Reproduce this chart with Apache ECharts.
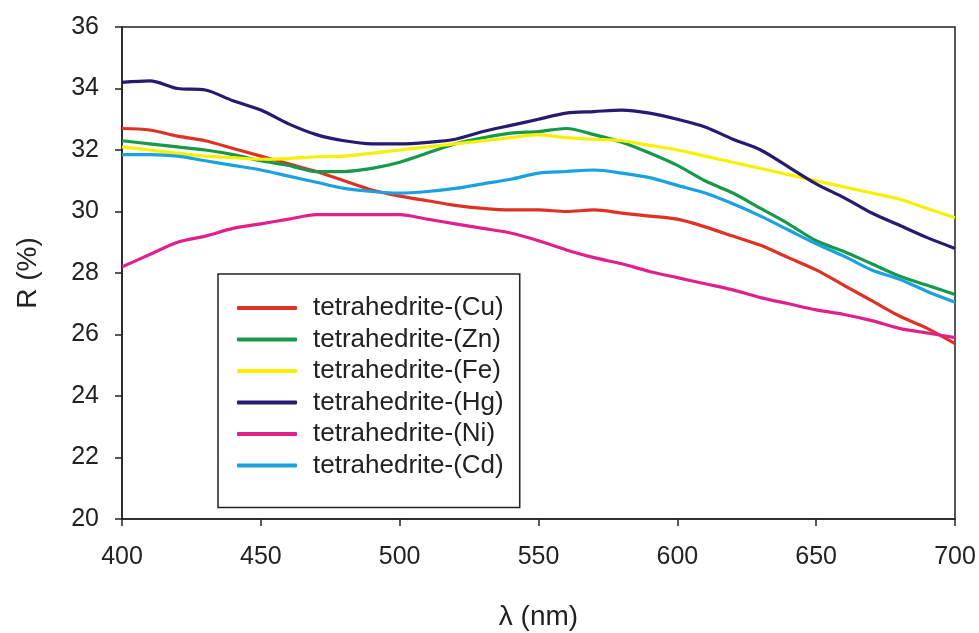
<!DOCTYPE html>
<html>
<head>
<meta charset="utf-8">
<script src="https://cdn.jsdelivr.net/npm/echarts@6/dist/echarts.min.js"></script>
<style>
  html, body { margin: 0; padding: 0; background: #fff; }
  #chart { width: 979px; height: 633px; }
</style>
</head>
<body>
<div id="chart"></div>
<script>
// wavelengths, nm
const lambda = [400, 410, 420, 430, 440, 450, 460, 470, 480, 490, 500, 510, 520, 530, 540, 550,
  560, 570, 580, 590, 600, 610, 620, 630, 640, 650, 660, 670, 680, 690, 700]

const cu = [32.7, 32.65, 32.45, 32.3, 32.05, 31.8, 31.55, 31.3, 31.0, 30.7, 30.5, 30.35, 30.2, 30.1, 30.05, 30.05,
  30.0, 30.05, 29.95, 29.85, 29.75, 29.5, 29.2, 28.9, 28.5, 28.1, 27.6, 27.1, 26.6, 26.2, 25.7]
const zn = [32.3, 32.2, 32.1, 32.0, 31.85, 31.65, 31.5, 31.3, 31.3, 31.4, 31.6, 31.9, 32.2, 32.4, 32.55, 32.6,
  32.7, 32.5, 32.25, 31.9, 31.5, 31.0, 30.6, 30.1, 29.6, 29.05, 28.7, 28.3, 27.9, 27.6, 27.3]
const fe = [32.1, 32.0, 31.9, 31.8, 31.75, 31.7, 31.72, 31.78, 31.8, 31.9, 32.0, 32.1, 32.2, 32.3, 32.4, 32.5,
  32.4, 32.35, 32.3, 32.15, 32.0, 31.8, 31.6, 31.4, 31.2, 31.0, 30.8, 30.6, 30.4, 30.1, 29.8]
const hg = [34.2, 34.25, 34.0, 33.95, 33.6, 33.3, 32.85, 32.5, 32.3, 32.2, 32.2, 32.25, 32.35, 32.6, 32.8, 33.0,
  33.2, 33.25, 33.3, 33.2, 33.0, 32.75, 32.35, 32.0, 31.45, 30.9, 30.45, 29.95, 29.55, 29.15, 28.8]
const ni = [28.2, 28.6, 29.0, 29.2, 29.45, 29.6, 29.75, 29.9, 29.9, 29.9, 29.9, 29.75, 29.6, 29.45, 29.3, 29.05,
  28.75, 28.5, 28.3, 28.05, 27.85, 27.65, 27.45, 27.2, 27.0, 26.8, 26.65, 26.45, 26.2, 26.05, 25.9]
const cd = [31.85, 31.85, 31.8, 31.65, 31.5, 31.35, 31.15, 30.95, 30.75, 30.65, 30.6, 30.65, 30.75, 30.9, 31.05, 31.25,
  31.3, 31.35, 31.25, 31.1, 30.85, 30.6, 30.25, 29.85, 29.4, 28.95, 28.55, 28.1, 27.8, 27.4, 27.05]

const names = ['tetrahedrite-(Cu)', 'tetrahedrite-(Zn)', 'tetrahedrite-(Fe)',
  'tetrahedrite-(Hg)', 'tetrahedrite-(Ni)', 'tetrahedrite-(Cd)']
const values = [cu, zn, fe, hg, ni, cd]
const colors = ['#de3324', '#17984a', '#f7f000', '#271a70', '#e0208c', '#1aa1df']

const font = 'Liberation Sans, Arial, sans-serif'

const chart = echarts.init(document.getElementById('chart'), null, { renderer: 'canvas' })

chart.setOption({
  animation: false,
  backgroundColor: '#fff',
  color: colors,
  grid: {
    left: 122, right: 24, top: 27, bottom: 114,
    outerBoundsMode: 'none',
    show: true, borderColor: '#222', borderWidth: 1.5, backgroundColor: 'transparent',
  },
  legend: {
    orient: 'vertical',
    left: 218,
    top: 274,
    padding: [21, 16, 29, 19],
    itemWidth: 60,
    itemHeight: 4,
    itemGap: 5.5,
    icon: 'roundRect',
    borderColor: '#222',
    borderWidth: 1.5,
    textStyle: { fontFamily: font, fontSize: 26, color: '#222', lineHeight: 26, padding: [0, 0, 0, 11] },
    data: names,
  },
  xAxis: {
    type: 'value',
    min: 400, max: 700, interval: 50,
    name: 'λ (nm)',
    nameLocation: 'middle',
    nameGap: 84,
    nameTextStyle: { fontFamily: font, fontSize: 28, color: '#222' },
    axisLine: { lineStyle: { color: '#222', width: 1.5 } },
    axisTick: { length: 7, lineStyle: { color: '#222', width: 1.5 } },
    axisLabel: { fontFamily: font, fontSize: 25, color: '#222', margin: 26 },
    splitLine: { show: false },
  },
  yAxis: {
    type: 'value',
    min: 20, max: 36, interval: 2,
    name: 'R (%)',
    nameLocation: 'middle',
    nameGap: 80,
    nameTextStyle: { fontFamily: font, fontSize: 28, color: '#222' },
    axisLine: { show: true, lineStyle: { color: '#222', width: 1.5 } },
    axisTick: { show: true, length: 7, lineStyle: { color: '#222', width: 1.5 } },
    axisLabel: { fontFamily: font, fontSize: 25, color: '#222', margin: 23 },
    splitLine: { show: false },
  },
  series: names.map((n, i) => ({
    name: n,
    type: 'line',
    data: lambda.map((x, j) => [x, values[i][j]]),
    smooth: 0.3,
    showSymbol: false,
    lineStyle: { width: 3.2, color: colors[i] },
    itemStyle: { color: colors[i] },
  })),
})
</script>
</body>
</html>
